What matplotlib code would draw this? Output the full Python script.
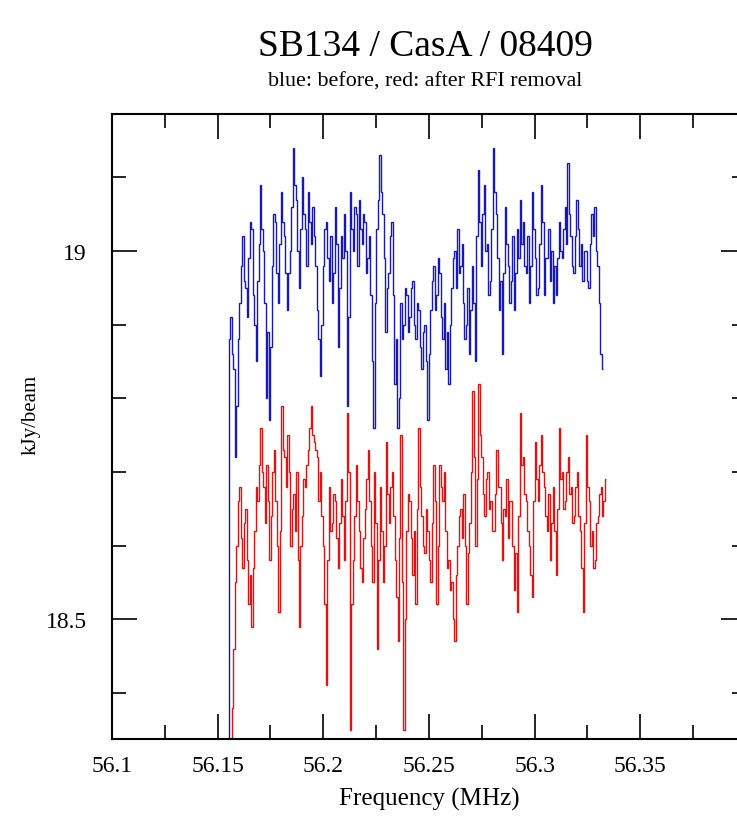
import numpy as np
import matplotlib
matplotlib.use("Agg")
import matplotlib.pyplot as plt
from matplotlib.ticker import MultipleLocator

# ---- data (kJy/beam per channel) ----
blue_start = 56.1545    # MHz, first channel edge
blue_width = 0.0007065  # MHz per channel
blue_vals = [
    18.30, 18.88, 18.91, 18.86, 18.84, 18.72, 18.79, 18.88, 18.93, 18.98, 19.02, 18.96, 18.95, 18.91, 18.99, 19.04, 19.03, 18.94, 18.90, 18.85,
    18.96, 19.01, 19.09, 19.03, 19.00, 18.93, 18.80, 18.89, 18.77, 18.87, 18.98, 19.05, 19.04, 18.97, 18.93, 19.01, 19.08, 19.04, 19.02, 18.97,
    18.92, 18.97, 19.00, 19.06, 19.14, 19.09, 19.07, 19.00, 18.95, 19.03, 19.10, 19.05, 19.03, 18.98, 19.08, 19.04, 19.01, 19.06, 19.02, 18.98,
    18.92, 18.88, 18.83, 18.90, 18.98, 19.03, 19.04, 18.99, 18.96, 19.02, 18.93, 18.97, 19.06, 19.01, 18.87, 18.95, 19.02, 18.99, 19.05, 19.00,
    18.79, 18.91, 19.08, 19.03, 19.00, 19.06, 19.05, 18.98, 19.07, 19.03, 19.01, 19.05, 19.04, 18.97, 18.99, 19.02, 18.94, 18.85, 18.76, 18.93,
    19.03, 19.07, 19.13, 19.08, 19.05, 18.99, 18.89, 18.95, 18.97, 19.02, 19.04, 18.94, 18.82, 18.88, 18.76, 18.80, 18.93, 18.88, 18.90, 18.95,
    18.94, 18.89, 18.91, 18.95, 18.96, 18.90, 18.88, 18.93, 18.92, 18.87, 18.84, 18.89, 18.90, 18.85, 18.77, 18.86, 18.92, 18.96, 18.98, 18.92,
    18.94, 18.99, 18.97, 18.91, 18.88, 18.93, 18.84, 18.89, 18.82, 18.90, 18.95, 18.99, 19.00, 18.95, 19.03, 18.97, 18.98, 19.01, 18.93, 18.88,
    18.90, 18.95, 18.86, 18.92, 18.98, 18.93, 18.85, 19.02, 19.11, 19.04, 18.98, 19.05, 19.09, 19.00, 19.01, 18.94, 18.96, 19.03, 19.14, 19.08,
    19.05, 18.99, 18.92, 18.96, 18.86, 18.97, 19.06, 19.01, 18.98, 18.93, 18.96, 19.02, 18.92, 18.97, 19.03, 18.99, 19.07, 19.01, 19.04, 18.98,
    18.97, 19.02, 18.93, 18.98, 19.08, 19.03, 18.99, 18.94, 18.95, 19.01, 19.09, 19.04, 18.94, 18.99, 18.99, 19.03, 18.96, 19.00, 18.93, 18.98,
    18.94, 18.99, 19.04, 19.00, 18.99, 19.03, 19.06, 19.01, 19.12, 19.05, 19.02, 18.98, 18.97, 19.02, 19.07, 19.03, 18.98, 19.01, 18.96, 19.00,
    19.00, 18.96, 18.95, 19.01, 19.05, 19.02, 19.06, 19.00, 18.98, 18.93, 18.86, 18.84,
]
red_start = 56.1560
red_width = 0.0007065
red_vals = [
    18.30, 18.38, 18.46, 18.55, 18.60, 18.66, 18.68, 18.61, 18.57, 18.63, 18.65, 18.58, 18.52, 18.56, 18.49, 18.57, 18.62, 18.68, 18.66, 18.71,
    18.76, 18.70, 18.68, 18.63, 18.71, 18.66, 18.58, 18.64, 18.70, 18.73, 18.66, 18.60, 18.51, 18.62, 18.79, 18.73, 18.72, 18.68, 18.75, 18.70,
    18.60, 18.65, 18.67, 18.62, 18.70, 18.58, 18.49, 18.60, 18.64, 18.69, 18.68, 18.71, 18.73, 18.76, 18.79, 18.75, 18.74, 18.73, 18.72, 18.66,
    18.70, 18.64, 18.60, 18.52, 18.41, 18.58, 18.68, 18.62, 18.63, 18.67, 18.66, 18.61, 18.57, 18.63, 18.69, 18.64, 18.58, 18.66, 18.78, 18.70,
    18.35, 18.52, 18.58, 18.64, 18.71, 18.66, 18.62, 18.57, 18.55, 18.61, 18.65, 18.69, 18.73, 18.66, 18.60, 18.55, 18.70, 18.63, 18.46, 18.58,
    18.68, 18.62, 18.55, 18.60, 18.74, 18.67, 18.63, 18.68, 18.70, 18.64, 18.58, 18.53, 18.47, 18.61, 18.75, 18.55, 18.35, 18.50, 18.62, 18.67,
    18.66, 18.61, 18.56, 18.62, 18.52, 18.65, 18.76, 18.68, 18.64, 18.60, 18.59, 18.65, 18.62, 18.58, 18.55, 18.63, 18.71, 18.66, 18.52, 18.60,
    18.71, 18.68, 18.66, 18.70, 18.62, 18.57, 18.58, 18.54, 18.55, 18.50, 18.47, 18.56, 18.60, 18.64, 18.65, 18.61, 18.67, 18.60, 18.52, 18.59,
    18.63, 18.70, 18.81, 18.72, 18.60, 18.69, 18.82, 18.75, 18.72, 18.67, 18.64, 18.69, 18.70, 18.65, 18.66, 18.62, 18.62, 18.67, 18.73, 18.68,
    18.68, 18.63, 18.58, 18.65, 18.64, 18.69, 18.61, 18.66, 18.66, 18.60, 18.54, 18.59, 18.51, 18.64, 18.78, 18.71, 18.72, 18.67, 18.66, 18.62,
    18.60, 18.56, 18.53, 18.66, 18.74, 18.69, 18.66, 18.71, 18.75, 18.70, 18.68, 18.64, 18.62, 18.67, 18.58, 18.63, 18.68, 18.62, 18.56, 18.65,
    18.76, 18.69, 18.70, 18.65, 18.66, 18.70, 18.72, 18.67, 18.68, 18.63, 18.64, 18.68, 18.70, 18.64, 18.62, 18.57, 18.51, 18.63, 18.75, 18.68,
    18.66, 18.60, 18.62, 18.57, 18.58, 18.63, 18.64, 18.67, 18.68, 18.64, 18.66, 18.69,
]
x_major = [56.1, 56.15, 56.2, 56.25, 56.3, 56.35]
y_major = [18.5, 19.0]

title = "SB134 / CasA / 08409"
subtitle = "blue: before, red: after RFI removal"

plt.rcParams['font.family'] = ['Liberation Serif', 'DejaVu Serif']

fig = plt.figure(figsize=(7.37, 8.28), dpi=100)
ax = fig.add_axes([0.152, 0.106, 0.86, 0.755])

b_edges = blue_start + blue_width * np.arange(len(blue_vals) + 1)
r_edges = red_start + red_width * np.arange(len(red_vals) + 1)
ax.stairs(blue_vals, b_edges, baseline=None, color='#1818b4', lw=1.0)
ax.stairs(red_vals, r_edges, baseline=None, color='#dc1414', lw=1.0)

ax.set_xlim(56.1, 56.4)
ax.set_ylim(18.337, 19.186)
ax.set_xticks(x_major)
ax.set_xticklabels([f"{v:g}" for v in x_major])
ax.set_yticks(y_major)
ax.set_yticklabels([f"{v:g}" for v in y_major])
ax.xaxis.set_minor_locator(MultipleLocator(0.025))
ax.yaxis.set_minor_locator(MultipleLocator(0.1))
ax.tick_params(which='both', direction='in', top=True, right=True, labelsize=17)
ax.tick_params(which='major', length=18, width=1.2)
ax.tick_params(which='minor', length=10, width=1.2)
ax.tick_params(axis='x', pad=11)
ax.tick_params(axis='y', pad=18)
for s in ax.spines.values():
    s.set_linewidth(1.5)

ax.set_xlabel("Frequency (MHz)", fontsize=18, labelpad=8)
ax.set_ylabel("kJy/beam", fontsize=15)
ax.yaxis.set_label_coords(-0.113, 0.52)

fig.text(0.577, 0.943, title, ha='center', va='center', fontsize=27)
fig.text(0.577, 0.901, subtitle, ha='center', va='center', fontsize=15.8)

fig.savefig("out.png", dpi=100)
